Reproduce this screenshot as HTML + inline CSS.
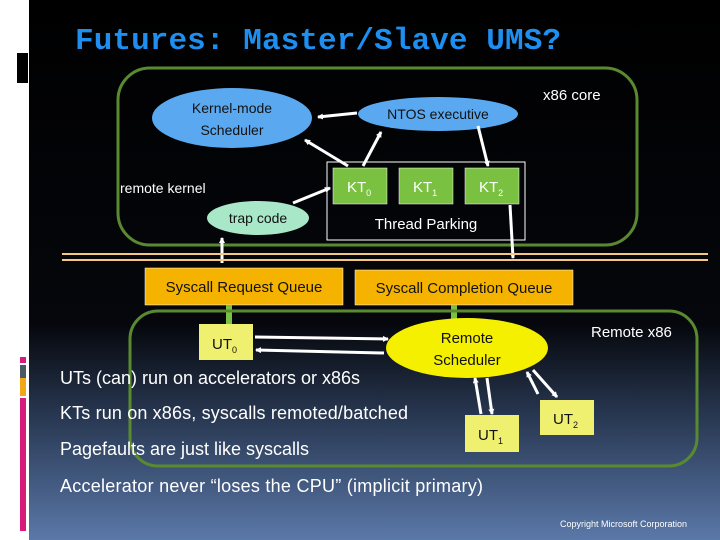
<!DOCTYPE html>
<html><head><style>
body{margin:0;width:720px;height:540px;overflow:hidden;background:#fff;}
svg{display:block}
text{font-family:"Liberation Sans",sans-serif;}
</style></head><body>
<svg width="720" height="540" viewBox="0 0 720 540">
<defs>
<linearGradient id="bg" x1="0" y1="0" x2="0" y2="1">
<stop offset="0" stop-color="#000"/><stop offset="0.6" stop-color="#05070c"/><stop offset="0.78" stop-color="#2a3a55"/><stop offset="1" stop-color="#5a78a8"/>
</linearGradient>
<marker id="a" markerWidth="6" markerHeight="6" refX="5" refY="3" orient="auto" markerUnits="userSpaceOnUse"><path d="M0,0 L6,3 L0,6z" fill="#fff"/></marker>
</defs>
<rect x="0" y="0" width="720" height="540" fill="#fff"/>
<rect x="29" y="0" width="691" height="540" fill="url(#bg)"/>
<rect x="17" y="53" width="11" height="30" fill="#000"/>
<rect x="20" y="357" width="6" height="6" fill="#d81b7a"/>
<rect x="20" y="365" width="6" height="13" fill="#4a5866"/>
<rect x="20" y="378" width="6" height="18" fill="#f0a818"/>
<rect x="20" y="398" width="6" height="133" fill="#d81b7a"/>
<text x="75" y="49" font-size="31" font-weight="bold" fill="#1e8ff0" textLength="486" style="font-family:'Liberation Mono',monospace">Futures: Master/Slave UMS?</text>
<rect x="118" y="68" width="519" height="177" rx="32" fill="none" stroke="#5a8a30" stroke-width="3"/>
<text x="543" y="100" font-size="15" fill="#fff">x86 core</text>
<ellipse cx="232" cy="118" rx="80" ry="30" fill="#5aa9f0"/>
<text x="232" y="113" font-size="14" fill="#111" text-anchor="middle">Kernel-mode</text>
<text x="232" y="135" font-size="14" fill="#111" text-anchor="middle">Scheduler</text>
<ellipse cx="438" cy="114" rx="80" ry="17" fill="#5aa9f0"/>
<text x="438" y="119" font-size="14" fill="#111" text-anchor="middle">NTOS executive</text>
<text x="120" y="193" font-size="14" fill="#fff">remote kernel</text>
<rect x="327" y="162" width="198" height="78" fill="none" stroke="#fff" stroke-width="1"/>
<rect x="333" y="168" width="54" height="36" fill="#7ac142" stroke="#fff" stroke-width="0.5"/>
<rect x="399" y="168" width="54" height="36" fill="#7ac142" stroke="#fff" stroke-width="0.5"/>
<rect x="465" y="168" width="54" height="36" fill="#7ac142" stroke="#fff" stroke-width="0.5"/>
<text x="347" y="192" font-size="15" fill="#fff">KT<tspan font-size="9" dy="4">0</tspan></text>
<text x="413" y="192" font-size="15" fill="#fff">KT<tspan font-size="9" dy="4">1</tspan></text>
<text x="479" y="192" font-size="15" fill="#fff">KT<tspan font-size="9" dy="4">2</tspan></text>
<text x="426" y="229" font-size="15" fill="#fff" text-anchor="middle">Thread Parking</text>
<ellipse cx="258" cy="218" rx="51" ry="17" fill="#a8e8c8"/>
<text x="258" y="223" font-size="14" fill="#111" text-anchor="middle">trap code</text>
<g stroke="#fff" stroke-width="3" fill="none">
<line x1="357" y1="113" x2="318" y2="117" marker-end="url(#a)"/>
<line x1="348" y1="166" x2="305" y2="140" marker-end="url(#a)"/>
<line x1="293" y1="203" x2="330" y2="188" marker-end="url(#a)"/>
<line x1="363" y1="166" x2="381" y2="132" marker-end="url(#a)"/>
<line x1="478" y1="126" x2="488" y2="166" marker-end="url(#a)"/>
<line x1="510" y1="205" x2="513" y2="258" marker-end="url(#a)"/>
<line x1="222" y1="263" x2="222" y2="238" marker-end="url(#a)"/>
</g>
<g stroke="#f5c880" stroke-width="2">
<line x1="62" y1="254" x2="708" y2="254"/><line x1="62" y1="260" x2="708" y2="260"/>
</g>
<rect x="145" y="268" width="198" height="37" fill="#f5b300" stroke="#fff" stroke-width="0.5"/>
<text x="244" y="292" font-size="15" fill="#111" text-anchor="middle">Syscall Request Queue</text>
<rect x="355" y="270" width="218" height="35" fill="#f5b300" stroke="#fff" stroke-width="0.5"/>
<text x="464" y="293" font-size="15" fill="#111" text-anchor="middle">Syscall Completion Queue</text>
<rect x="226" y="305" width="6" height="20" fill="#7ac142"/>
<rect x="451" y="305" width="6" height="14" fill="#7ac142"/>
<rect x="130" y="311" width="567" height="155" rx="28" fill="none" stroke="#5a8a30" stroke-width="3"/>
<text x="591" y="337" font-size="15" fill="#fff">Remote x86</text>
<rect x="199" y="324" width="54" height="36" fill="#f0f070"/>
<text x="212" y="349" font-size="15" fill="#111">UT<tspan font-size="9" dy="4">0</tspan></text>
<ellipse cx="467" cy="348" rx="81" ry="30" fill="#f5f000"/>
<text x="467" y="343" font-size="15" fill="#111" text-anchor="middle">Remote</text>
<text x="467" y="365" font-size="15" fill="#111" text-anchor="middle">Scheduler</text>
<rect x="465" y="415" width="54" height="37" fill="#f0f070"/>
<text x="478" y="440" font-size="15" fill="#111">UT<tspan font-size="9" dy="4">1</tspan></text>
<rect x="540" y="400" width="54" height="35" fill="#f0f070"/>
<text x="553" y="424" font-size="15" fill="#111">UT<tspan font-size="9" dy="4">2</tspan></text>
<g stroke="#fff" stroke-width="3" fill="none">
<line x1="255" y1="337" x2="388" y2="339" marker-end="url(#a)"/>
<line x1="384" y1="353" x2="256" y2="350" marker-end="url(#a)"/>
<line x1="481" y1="414" x2="475" y2="378" marker-end="url(#a)"/>
<line x1="487" y1="378" x2="492" y2="414" marker-end="url(#a)"/>
<line x1="538" y1="394" x2="527" y2="372" marker-end="url(#a)"/>
<line x1="533" y1="370" x2="557" y2="397" marker-end="url(#a)"/>
</g>
<g font-size="18" fill="#fff">
<text x="60" y="384" textLength="300">UTs (can) run on accelerators or x86s</text>
<text x="60" y="419" textLength="348">KTs run on x86s, syscalls remoted/batched</text>
<text x="60" y="455" textLength="249">Pagefaults are just like syscalls</text>
<text x="60" y="492" textLength="423">Accelerator never “loses the CPU” (implicit primary)</text>
</g>
<text x="560" y="527" font-size="9" fill="#fff">Copyright Microsoft Corporation</text>
</svg>
</body></html>
